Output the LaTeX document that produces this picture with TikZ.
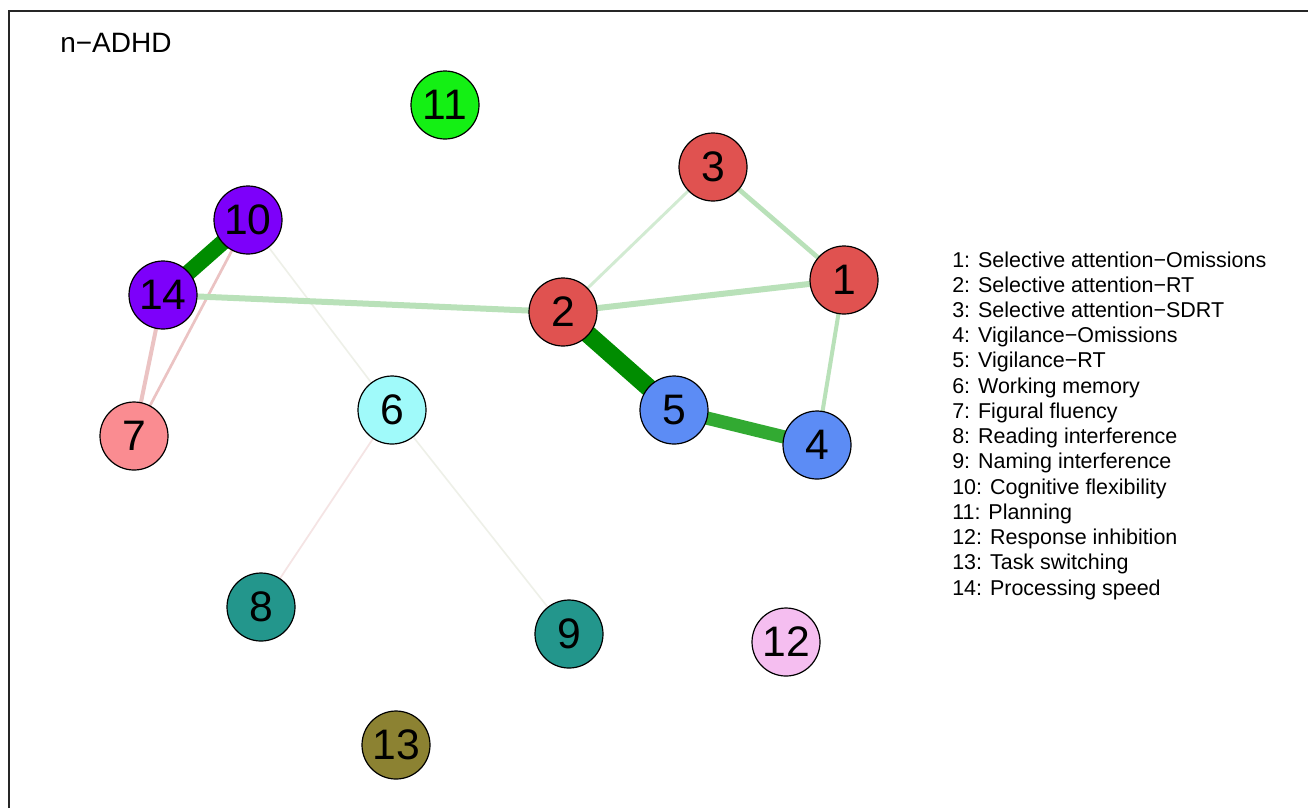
\documentclass[tikz,border=0pt]{standalone}
\usepackage{fontspec}
\setmainfont{Liberation Sans}
\definecolor{cred}{RGB}{224,82,80}
\definecolor{cblue}{RGB}{92,140,245}
\definecolor{ccyan}{RGB}{160,250,250}
\definecolor{cpink}{RGB}{250,140,145}
\definecolor{cteal}{RGB}{35,150,140}
\definecolor{cpurple}{RGB}{125,0,250}
\definecolor{cgreen}{RGB}{20,240,20}
\definecolor{clpink}{RGB}{245,190,240}
\definecolor{colive}{RGB}{140,130,50}
\definecolor{edark}{RGB}{0,140,0}
\definecolor{emid}{RGB}{50,170,50}
\definecolor{elight}{RGB}{185,225,185}
\definecolor{evlight}{RGB}{210,235,210}
\definecolor{epink}{RGB}{235,195,195}
\definecolor{efaint}{RGB}{245,228,228}
\definecolor{efaintg}{RGB}{238,240,232}
\begin{document}
\begin{tikzpicture}[x=0.75pt,y=-0.75pt,
  vtx/.style={circle,draw=black,line width=0.9pt,minimum size=51pt,inner sep=0pt,font=\fontsize{32}{36}\selectfont},
  leg/.style={anchor=base west,inner sep=0pt,font=\fontsize{16.1}{19}\selectfont},
  edge/.style={line cap=butt}]
\useasboundingbox (0,0) rectangle (1308,808);
\fill[white] (0,0) rectangle (1308,808);
\draw[line width=1.5pt,black!85] (8.5,808) -- (8.5,10.5) -- (1308,10.5);
\node[anchor=base west,inner sep=0pt,font=\fontsize{21}{24}\selectfont] (title) at (60,52) {n−ADHD};
% node positions
\coordinate (p1) at (844,280);
\coordinate (p2) at (563,312);
\coordinate (p3) at (713,167);
\coordinate (p4) at (817,445);
\coordinate (p5) at (674,410);
\coordinate (p6) at (392,410);
\coordinate (p7) at (134,436);
\coordinate (p8) at (261,607);
\coordinate (p9) at (569,634);
\coordinate (p10) at (248,220);
\coordinate (p11) at (445,105);
\coordinate (p12) at (786,642);
\coordinate (p13) at (396,745);
\coordinate (p14) at (163,295);
% edges
\draw[edge,efaintg,line width=1.2pt] (p10) -- (p6);
\draw[edge,efaint,line width=1.3pt] (p6) -- (p8);
\draw[edge,efaintg,line width=1.2pt] (p6) -- (p9);
\draw[edge,epink,line width=2pt] (p10) -- (p7);
\draw[edge,epink,line width=3pt] (p14) -- (p7);
\draw[edge,evlight,line width=2.2pt] (p2) -- (p3);
\draw[edge,elight,line width=3.5pt] (p3) -- (p1);
\draw[edge,elight,line width=3pt] (p1) -- (p4);
\draw[edge,elight,line width=4.5pt] (p14) -- (p2);
\draw[edge,elight,line width=4.5pt] (p2) -- (p1);
\draw[edge,emid,line width=10pt] (p5) -- (p4);
\draw[edge,edark,line width=13.5pt] (p2) -- (p5);
\draw[edge,edark,line width=12pt] (p10) -- (p14);
% vertices
\node[vtx,fill=cred] (n1) at (p1) {1};
\node[vtx,fill=cred] (n2) at (p2) {2};
\node[vtx,fill=cred] (n3) at (p3) {3};
\node[vtx,fill=cblue] (n4) at (p4) {4};
\node[vtx,fill=cblue] (n5) at (p5) {5};
\node[vtx,fill=ccyan] (n6) at (p6) {6};
\node[vtx,fill=cpink] (n7) at (p7) {7};
\node[vtx,fill=cteal] (n8) at (p8) {8};
\node[vtx,fill=cteal] (n9) at (p9) {9};
\node[vtx,fill=cpurple] (n10) at (p10) {10};
\node[vtx,fill=cgreen] (n11) at (p11) {11};
\node[vtx,fill=clpink] (n12) at (p12) {12};
\node[vtx,fill=colive] (n13) at (p13) {13};
\node[vtx,fill=cpurple] (n14) at (p14) {14};
% legend
\node[leg] (l1) at (952,267.0) {1: Selective attention−Omissions};
\node[leg] (l2) at (952,292.2) {2: Selective attention−RT};
\node[leg] (l3) at (952,317.5) {3: Selective attention−SDRT};
\node[leg] (l4) at (952,342.7) {4: Vigilance−Omissions};
\node[leg] (l5) at (952,367.9) {5: Vigilance−RT};
\node[leg] (l6) at (952,393.2) {6: Working memory};
\node[leg] (l7) at (952,418.4) {7: Figural fluency};
\node[leg] (l8) at (952,443.6) {8: Reading interference};
\node[leg] (l9) at (952,468.8) {9: Naming interference};
\node[leg] (l10) at (952,494.1) {10: Cognitive flexibility};
\node[leg] (l11) at (952,519.3) {11: Planning};
\node[leg] (l12) at (952,544.5) {12: Response inhibition};
\node[leg] (l13) at (952,569.8) {13: Task switching};
\node[leg] (l14) at (952,595.0) {14: Processing speed};
\end{tikzpicture}
\end{document}
